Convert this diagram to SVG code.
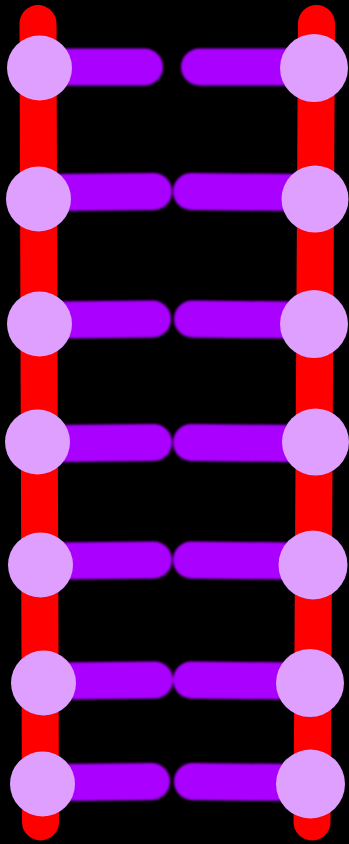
<svg xmlns="http://www.w3.org/2000/svg" width="349" height="844" viewBox="0 0 349 844">
<defs>
<style>
.rail{stroke:#ff0000;stroke-width:37;stroke-linecap:round;fill:none}
.bar{stroke:#aa00ff;stroke-width:37;stroke-linecap:round;fill:none}
.node{fill:#df9fff}
</style>
<filter id="soft" filterUnits="userSpaceOnUse" x="0" y="0" width="349" height="844"><feGaussianBlur stdDeviation="0.9"/></filter>
</defs>
<rect width="349" height="844" fill="#000"/>
<g id="rail-left"><line class="rail" x1="38" y1="23.5" x2="40.5" y2="822"/></g>
<g id="rail-right"><line class="rail" x1="316.5" y1="23.5" x2="312" y2="822"/></g>
<g id="bars" filter="url(#soft)">
<line class="bar" x1="55" y1="67" x2="144.5" y2="67"/>
<line class="bar" x1="199.5" y1="67" x2="295" y2="67"/>
<line class="bar" x1="55" y1="192.5" x2="153.5" y2="191.5"/>
<line class="bar" x1="191.5" y1="191.5" x2="295" y2="192.5"/>
<line class="bar" x1="55" y1="320" x2="152.5" y2="319"/>
<line class="bar" x1="192.5" y1="319" x2="295" y2="320"/>
<line class="bar" x1="55" y1="443.5" x2="153.5" y2="442.5"/>
<line class="bar" x1="191.5" y1="442.5" x2="295" y2="443.5"/>
<line class="bar" x1="55" y1="561" x2="153.5" y2="560"/>
<line class="bar" x1="191.5" y1="560" x2="295" y2="561"/>
<line class="bar" x1="60" y1="681" x2="154.5" y2="680"/>
<line class="bar" x1="191.5" y1="680" x2="295" y2="681"/>
<line class="bar" x1="60" y1="782.5" x2="151.5" y2="781.5"/>
<line class="bar" x1="192.5" y1="781.5" x2="295" y2="782.5"/>
</g>
<g id="pair-1"><circle class="node" cx="39.5" cy="68" r="32.5"/><circle class="node" cx="314" cy="68" r="34"/></g>
<g id="pair-2"><circle class="node" cx="38.5" cy="199" r="32.5"/><circle class="node" cx="315" cy="199" r="33.5"/></g>
<g id="pair-3"><circle class="node" cx="39.5" cy="324" r="32.5"/><circle class="node" cx="314" cy="324" r="34"/></g>
<g id="pair-4"><circle class="node" cx="37.5" cy="442" r="32.5"/><circle class="node" cx="315.5" cy="442" r="33.5"/></g>
<g id="pair-5"><circle class="node" cx="40.5" cy="565" r="32.5"/><circle class="node" cx="313" cy="565" r="34.5"/></g>
<g id="pair-6"><circle class="node" cx="43.5" cy="683" r="32.5"/><circle class="node" cx="310" cy="683" r="34"/></g>
<g id="pair-7"><circle class="node" cx="42.5" cy="784" r="32.5"/><circle class="node" cx="310.5" cy="784" r="34.5"/></g>
</svg>
